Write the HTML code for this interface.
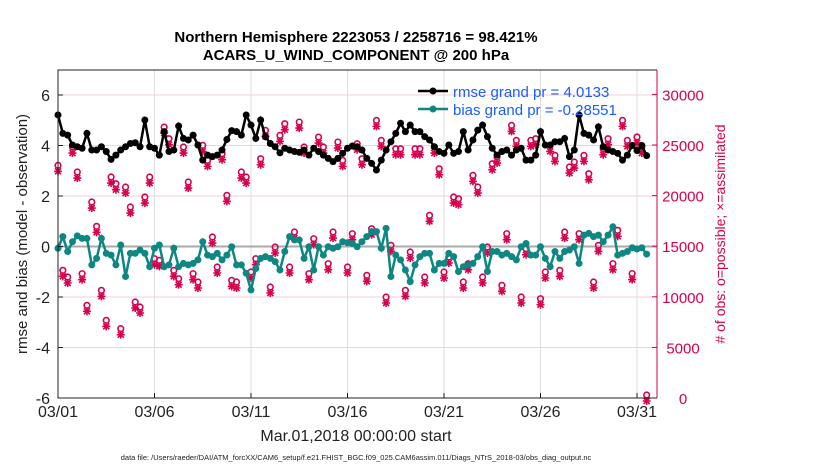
<!DOCTYPE html>
<html><head><meta charset="utf-8"><style>
body{margin:0;background:#fff;width:830px;height:470px;overflow:hidden;font-family:"Liberation Sans",sans-serif}
</style></head><body>
<svg id="chart" width="830" height="470" xmlns="http://www.w3.org/2000/svg" font-family="Liberation Sans, sans-serif">
<text x="356" y="42" text-anchor="middle" font-size="15" font-weight="bold">Northern Hemisphere 2223053 / 2258716 = 98.421%</text>
<text x="356" y="60" text-anchor="middle" font-size="15" font-weight="bold">ACARS_U_WIND_COMPONENT @ 200 hPa</text>
<g id="grid"></g><g id="marks"></g><g id="axes"></g>
<text x="356" y="441" text-anchor="middle" font-size="16" fill="#222">Mar.01,2018 00:00:00 start</text>
<text x="356" y="460" text-anchor="middle" font-size="7.5" fill="#222">data file: /Users/raeder/DAI/ATM_forcXX/CAM6_setup/f.e21.FHIST_BGC.f09_025.CAM6assim.011/Diags_NTrS_2018-03/obs_diag_output.nc</text>
<text transform="translate(27,234) rotate(-90)" text-anchor="middle" font-size="15" fill="#222">rmse and bias (model - observation)</text>
<text transform="translate(725,234) rotate(-90)" text-anchor="middle" font-size="14" fill="#d6004d"># of obs: o=possible; ×=assimilated</text>
<g>
<line x1="418" y1="91" x2="448" y2="91" stroke="#000" stroke-width="2.5"/><circle cx="433" cy="91" r="3.5" fill="#000"/>
<text x="453" y="97" font-size="15" fill="#1a5cff">rmse grand pr = 4.0133</text>
<line x1="418" y1="109" x2="448" y2="109" stroke="#0e8783" stroke-width="2.5"/><circle cx="433" cy="109" r="3.5" fill="#0e8783"/>
<text x="453" y="115" font-size="15" fill="#1a5cff">bias grand pr = -0.28551</text>
</g>
</svg>
<script>
const rmse=[5.21,4.48,4.41,4.02,3.95,3.89,4.48,3.82,3.82,3.95,3.76,3.45,3.62,3.82,3.95,4.08,4.11,3.95,5.01,3.95,3.89,3.62,4.55,3.76,3.82,4.77,4.28,4.22,4.41,4.02,3.42,3.62,3.56,3.62,3.82,4.24,4.59,4.55,4.41,5.21,4.81,4.28,5.01,4.35,4.08,3.95,3.71,3.89,3.82,3.76,3.73,3.82,3.62,3.89,3.76,3.62,3.49,3.36,
3.49,3.69,3.89,3.98,3.95,3.82,3.49,3.29,3.03,3.42,3.82,4.15,4.48,4.88,4.55,4.81,4.55,4.55,4.35,4.22,3.95,3.76,3.69,4.02,3.69,3.76,4.55,3.82,4.22,4.61,4.81,4.35,3.89,3.62,3.76,3.82,3.62,3.82,3.89,3.42,3.42,3.62,4.55,4.02,4.02,4.15,4.15,4.28,3.56,3.82,5.21,4.48,4.41,4.22,4.74,3.95,3.82,3.76,3.69,3.42,3.62,4.0,3.8,4.0,3.6];
const bias=[-0.07,0.39,-0.20,0.19,0.42,0.32,0.32,-0.73,-0.47,0.32,-0.27,-0.34,-0.73,0.06,-1.19,-0.27,-0.27,-0.14,-0.27,-0.80,-0.07,0.06,-0.80,-0.73,-0.07,-0.80,-0.67,-0.73,-0.67,-0.53,0.19,-0.34,-0.40,-0.27,-0.53,-0.34,-0.01,-0.73,-0.73,-1.06,-1.72,-0.87,-0.47,-0.40,-0.47,-0.60,-0.93,-0.20,0.39,0.26,0.26,-0.47,-0.01,-0.93,-0.01,-0.34,-0.01,-0.07,
-0.01,0.19,0.15,0.12,-0.01,0.19,0.39,0.59,0.59,-0.07,0.72,-1.19,-0.34,-0.53,-0.93,-1.39,-0.73,-0.40,-0.27,-0.27,-0.93,-0.67,-0.67,-0.27,-0.40,-0.99,-0.80,-0.73,-0.67,-0.40,-0.01,-0.99,-0.20,-0.20,-0.34,-0.27,-0.40,-0.53,-0.01,0.12,-0.34,-0.34,-0.01,-0.47,-0.80,-0.20,-0.47,-0.20,-0.14,-0.01,-0.67,0.45,0.52,0.39,0.45,0.19,0.45,0.78,-0.34,-0.27,-0.20,-0.05,-0.1,-0.05,-0.3];
const nobs=[22691,12318,11660,24503,22033,11989,8861,19069,16665,10343,7379,21539,20880,6556,20551,18575,9190,8696,19563,21539,13471,13307,26478,25326,12318,11495,24503,21045,11989,11166,24667,23185,15611,12648,23844,19728,11330,11166,22033,21539,12153,13471,23350,26149,10672,14624,25655,26808,12648,16105,26972,24503,11989,15447,25490,24503,12977,16105,
24996,23185,12648,15940,24832,23350,11825,16434,27137,25161,9684,14788,24338,24338,10343,14130,24338,24338,11660,17752,24503,22362,12153,13636,19563,19398,11166,12977,21703,20551,11660,14624,22856,23515,10837,15940,26643,25161,9684,14459,25161,25326,9519,12153,24667,23679,12318,16105,22527,23021,15940,23679,21868,11166,14788,24338,25326,12977,16270,27137,25161,12000,25500,24500,0];
const leftTicks=[-6,-4,-2,0,2,4,6];
const rightTicks=[0,5000,10000,15000,20000,25000,30000];
const xTickDays=[0,5,10,15,20,25,30];
const xTickLabels=["03/01","03/06","03/11","03/16","03/21","03/26","03/31"];
const stepDays=0.25;
const NS="http://www.w3.org/2000/svg";
const L=58,R=657,T=70,B=398;
const xs=d=>L+d*19.3;
const yl=v=>95+(6-v)*25.25;
const yr=n=>B-n/5000*50.6;
function mk(tag,attrs,parent){const e=document.createElementNS(NS,tag);for(const k in attrs)e.setAttribute(k,attrs[k]);parent.appendChild(e);return e;}
const grid=document.getElementById('grid'),marks=document.getElementById('marks'),axes=document.getElementById('axes');
leftTicks.forEach(v=>{const g=mk('line',{x1:L,x2:R,y1:yl(v),y2:yl(v),stroke:'#f2d0dc','stroke-width':1},grid);


const t=mk('text',{x:L-8,y:yl(v)+6,'text-anchor':'end','font-size':16,fill:'#222'},axes);t.textContent=v;


mk('line',{x1:L,x2:L+5,y1:yl(v),y2:yl(v),stroke:'#222'},axes);});
xTickDays.forEach((d,i)=>{const g=mk('line',{x1:xs(d),x2:xs(d),y1:T,y2:B,stroke:'#ddd','stroke-width':1},grid);


const t=mk('text',{x:xs(d),y:417,'text-anchor':'middle','font-size':16,fill:'#222'},axes);t.textContent=xTickLabels[i];


mk('line',{x1:xs(d),x2:xs(d),y1:B,y2:B-5,stroke:'#222'},axes);});
rightTicks.forEach(v=>{const t=mk('text',{x:683,y:yr(v)+6,'text-anchor':'middle','font-size':15,fill:'#d6004d'},axes);t.textContent=v;


mk('line',{x1:R-5,x2:R,y1:yr(v),y2:yr(v),stroke:'#d6004d'},axes);});
const zl=mk('line',{x1:L,x2:R,y1:yl(0),y2:yl(0),stroke:'#aaa','stroke-width':2},grid);


const box=mk('path',{d:`M${R},${T}H${L}V${B}H${R}`,fill:'none',stroke:'#222','stroke-width':1},axes);


const rax=mk('line',{x1:R,x2:R,y1:T,y2:B,stroke:'#d6004d','stroke-width':1},axes);


nobs.forEach((n,i)=>{const x=xs(i*stepDays),y=yr(n);
const c=mk('circle',{cx:x,cy:y-3,r:2.8,fill:'none',stroke:'#d6004d','stroke-width':1.6},marks);


const s=mk('path',{d:`M${x-4},${y+3}H${x+4}M${x},${y-1}V${y+7}M${x-3},${y}L${x+3},${y+6}M${x+3},${y}L${x-3},${y+6}`,stroke:'#d6004d','stroke-width':1.6},marks);

});
function series(arr,color,name){
const p=mk('polyline',{points:arr.map((v,i)=>xs(i*stepDays)+','+yl(v)).join(' '),fill:'none',stroke:color,'stroke-width':2.5},marks);


arr.forEach((v,i)=>{const c=mk('circle',{cx:xs(i*stepDays),cy:yl(v),r:3.5,fill:color},marks);

});}
series(bias,'#0e8783','bias');
series(rmse,'#000','rmse');
</script>
</body></html>
